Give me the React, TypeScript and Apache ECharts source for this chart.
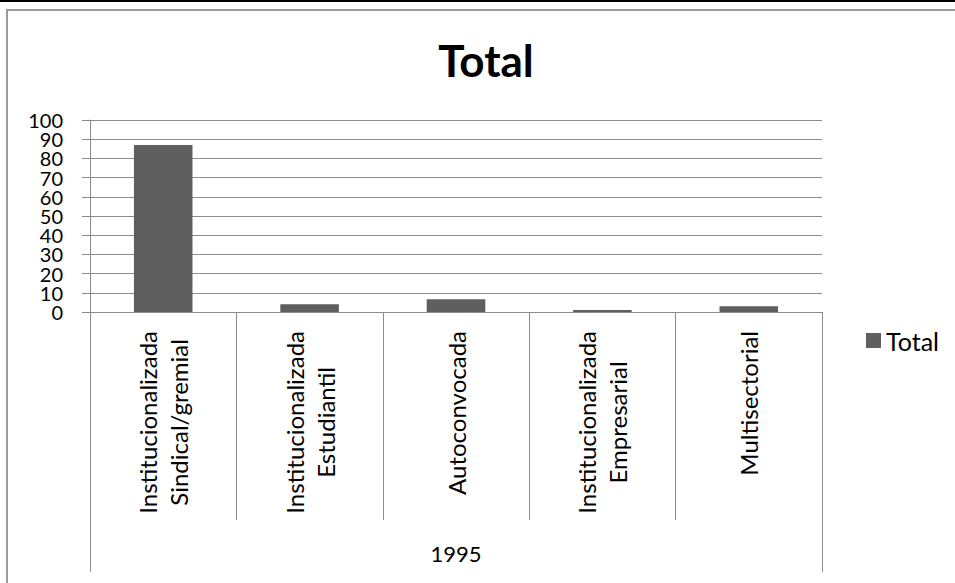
import React, { useEffect, useRef } from "react";
import * as echarts from "echarts";

const categories: string[] = [
  "Institucionalizada\nSindical/gremial",
  "Institucionalizada\nEstudiantil",
  "Autoconvocada",
  "Institucionalizada\nEmpresarial",
  "Multisectorial",
];
const values: number[] = [87, 4, 6.6, 1, 3];
const groupLabels: string[] = ["1995"];
const yTicksA: number[] = [0, 20, 40, 60, 80, 100];
const yTicksB: number[] = [10, 30, 50, 70, 90];
const seriesName = "Total";
const titleText = "Total";

const FONT = "Lato, 'Open Sans', sans-serif";
const GRID_COLOR = "#8c8c8c";
const BAR_COLOR = "#5f5f5f";

export default function App() {
  const ref = useRef<HTMLDivElement>(null);
  useEffect(() => {
    if (!ref.current) return;
    const chart = echarts.init(ref.current, undefined, { renderer: "svg" });
    const yLabel = {
      fontFamily: FONT,
      fontSize: 20,
      color: "#000",
      margin: 27,
      hideOverlap: false,
    };
    chart.setOption({
      animation: false,
      backgroundColor: "#ffffff",
      title: {
        text: titleText,
        left: 481,
        top: 33,
        textAlign: "center",
        textStyle: { fontFamily: FONT, fontSize: 44, fontWeight: "bold", color: "#000" },
      },
      legend: {
        data: [seriesName],
        left: 861,
        top: 323,
        icon: "rect",
        itemWidth: 15,
        itemHeight: 15,
        textStyle: { fontFamily: FONT, fontSize: 25, color: "#000" },
      },
      grid: { left: 90, top: 120, right: 133, bottom: 271, containLabel: false },
      yAxis: [
        {
          type: "value",
          position: "left",
          min: 0,
          max: 100,
          interval: 10,
          axisLine: { show: true, lineStyle: { color: GRID_COLOR } },
          axisTick: { show: true, length: 8, lineStyle: { color: GRID_COLOR } },
          splitLine: { show: true, lineStyle: { color: GRID_COLOR } },
          axisLabel: { ...yLabel, customValues: yTicksA, showMinLabel: true, showMaxLabel: true },
        },
        {
          type: "value",
          position: "left",
          offset: 0,
          min: 0,
          max: 100,
          interval: 10,
          axisLine: { show: false },
          axisTick: { show: false },
          splitLine: { show: false },
          axisLabel: { ...yLabel, customValues: yTicksB },
        },
      ],
      xAxis: [
        {
          type: "category",
          data: categories,
          position: "bottom",
          axisLine: { show: true, lineStyle: { color: GRID_COLOR } },
          axisTick: { show: true, interval: 0, length: 208, lineStyle: { color: GRID_COLOR } },
          axisLabel: {
            interval: 0,
            rotate: 90,
            margin: 19,
            fontFamily: FONT,
            fontSize: 24,
            color: "#000",
            lineHeight: 31,
            formatter: (v: string) =>
              v
                .split("\n")
                .map((s) => `{c|${s}}`)
                .join("\n"),
            rich: {
              c: { align: "center", fontFamily: FONT, fontSize: 24, color: "#000", lineHeight: 31 },
            },
          },
        },
        {
          type: "category",
          data: groupLabels,
          position: "bottom",
          axisLine: { show: false },
          axisTick: { show: true, interval: 0, length: 260, lineStyle: { color: GRID_COLOR } },
          axisLabel: { interval: 0, margin: 230, fontFamily: FONT, fontSize: 22, color: "#000" },
        },
      ],
      graphic: [
        {
          type: "line",
          shape: { x1: 0, y1: 1, x2: 955, y2: 1 },
          style: { stroke: "#000", lineWidth: 2 },
          silent: true,
        },
        {
          type: "rect",
          shape: { x: 7, y: 10, width: 960, height: 590 },
          style: { fill: "none", stroke: "#9a9a9a", lineWidth: 2 },
          silent: true,
        },
      ],
      series: [
        {
          name: seriesName,
          type: "bar",
          xAxisIndex: 0,
          yAxisIndex: 0,
          data: values,
          barCategoryGap: "60%",
          itemStyle: { color: BAR_COLOR },
        },
      ],
    });
    return () => chart.dispose();
  }, []);
  return (
    <div
      ref={ref}
      style={{ position: "absolute", left: 0, top: 0, width: 955, height: 583 }}
    />
  );
}
